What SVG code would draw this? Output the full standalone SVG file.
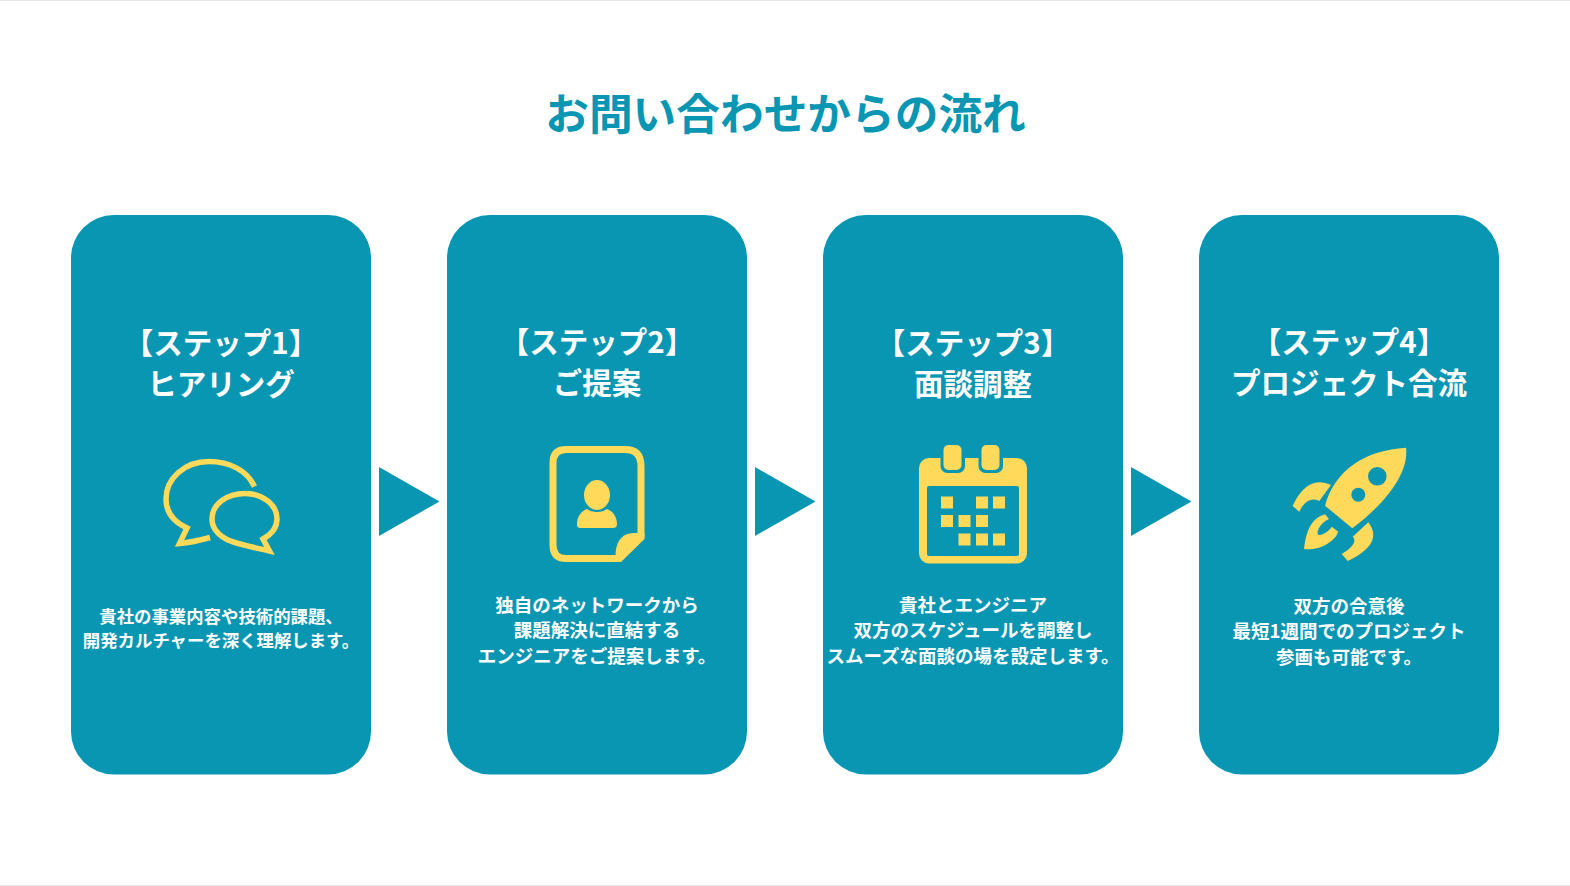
<svg xmlns="http://www.w3.org/2000/svg" width="1570" height="886" viewBox="0 0 1570 886">
<style>
text{font-family:"Noto Sans CJK JP","Noto Sans",sans-serif;font-weight:700;text-anchor:middle}
.title{fill:#0896b3;font-size:43.7px}
.head{fill:#fff;font-size:29.5px}
.body{fill:#fff;font-size:18.5px}
.small{font-size:17.4px}
.card{fill:#0896b3}
.y{fill:#ffd95a}
.arrow{fill:#0896b3}
.line{fill:#e6e6e6}
</style>
<rect width="1570" height="886" fill="#fff"/>
<rect class="line" x="0" y="0" width="1570" height="1"/>
<rect class="line" x="0" y="885" width="1570" height="1"/>
<text id="title" class="title" x="785.500" y="130">お問い合わせからの流れ</text>
<g id="step1">
<rect class="card" x="71" y="215" width="300" height="559.500" rx="43"/>
<text class="head" x="221" y="354">【ステップ1】</text>
<text class="head" x="221" y="395">ヒアリング</text>
<path d="M254.500 486.500C247 470 229 461.500 209 461.500C184 461.500 166 479 166 499C166 512 174 522 187 528L179.500 543.500C190 542.500 201 540 210 537.500" fill="none" stroke="#ffd95a" stroke-width="5.500"/>
<path d="M245 493.500C262 493.500 277 504 277 519C277 527 272 534 263 539L269.500 551C252 547 237 544 228 540C218 535 212 528 212 519C212 504 227 493.500 245 493.500Z" fill="none" stroke="#ffd95a" stroke-width="5.500"/>
<text class="body small" x="221" y="622.500">貴社の事業内容や技術的課題、</text>
<text class="body small" x="221" y="646.500">開発カルチャーを深く理解します。</text>
</g>
<g id="step2">
<rect class="card" x="447" y="215" width="300" height="559.500" rx="43"/>
<text class="head" x="597" y="353">【ステップ2】</text>
<text class="head" x="597" y="394">ご提案</text>
<path d="M566 449.500H625Q641 449.500 641 466V536L619 558.500H566Q553 558.500 553 545V463Q553 449.500 566 449.500Z" fill="none" stroke="#ffd95a" stroke-width="7"/>
<path class="y" d="M616 562C614 548 618 533 634 533H644.500V539L621 562Z"/>
<ellipse class="y" cx="597" cy="495" rx="13" ry="15"/>
<path class="y" d="M587 509C592 513 602 513 607 509C613 511 617 517 617 524C617 527 615 528 613 528H581C578 528 577 527 577 524C577 517 581 511 587 509Z"/>
<text class="body" x="597" y="611.500">独自のネットワークから</text>
<text class="body" x="597" y="637">課題解決に直結する</text>
<text class="body" x="597" y="662.500">エンジニアをご提案します。</text>
</g>
<g id="step3">
<rect class="card" x="823" y="215" width="300" height="559.500" rx="43"/>
<text class="head" x="973" y="354">【ステップ3】</text>
<text class="head" x="973" y="395">面談調整</text>
<rect class="y" x="919" y="458" width="108" height="105.500" rx="10"/>
<rect class="card" x="927" y="486" width="92" height="70" rx="2"/>
<rect class="card" x="940.500" y="441" width="24.500" height="32" rx="7"/>
<rect class="card" x="978.500" y="441" width="24.500" height="32" rx="7"/>
<rect class="y" x="943.500" y="445" width="18" height="25" rx="5"/>
<rect class="y" x="981.500" y="445" width="18" height="25" rx="5"/>
<g class="y"><rect x="941" y="496.500" width="12" height="12"/><rect x="976" y="496.500" width="12" height="12"/><rect x="993" y="496.500" width="12" height="12"/><rect x="941" y="515" width="12" height="12"/><rect x="958.500" y="515" width="12" height="12"/><rect x="976" y="515" width="12" height="12"/><rect x="958.500" y="533.500" width="12" height="12"/><rect x="976" y="533.500" width="12" height="12"/><rect x="993" y="533.500" width="12" height="12"/></g>
<text class="body" x="973" y="611.500">貴社とエンジニア</text>
<text class="body" x="973" y="637">双方のスケジュールを調整し</text>
<text class="body" x="973" y="662.500">スムーズな面談の場を設定します。</text>
</g>
<g id="step4">
<rect class="card" x="1199" y="215" width="300" height="559.500" rx="43"/>
<text class="head" x="1349" y="353">【ステップ4】</text>
<text class="head" x="1349" y="394">プロジェクト合流</text>
<path class="y" fill-rule="evenodd" d="M1325 505.700C1335 470 1365 450 1406 447.700C1409 470 1390 500 1352.300 528.300ZM1386.600 476.300A9.300 9.300 0 1 0 1368 476.300A9.300 9.300 0 1 0 1386.600 476.300ZM1365.300 494.700A7 7 0 1 0 1351.300 494.700A7 7 0 1 0 1365.300 494.700Z"/>
<path class="y" d="M1292.700 506L1299.300 511.700C1304 502 1311 497 1319.300 501L1331 485C1312 476 1300 490 1292.700 506Z"/>
<path class="y" d="M1368.300 522.300L1352.700 536.700C1358 542 1350 549 1341.700 554L1347.700 561C1365 553 1382 540 1368.300 522.300Z"/>
<path class="y" d="M1304 549C1306 530 1312 518 1325 514.300L1329 519C1318 524 1315 536 1320 535C1325 534 1330 530 1331.700 526.700L1338.300 531.700C1334 543 1318 551 1304 549Z"/>
<text class="body" x="1349" y="613">双方の合意後</text>
<text class="body" x="1349" y="638">最短1週間でのプロジェクト</text>
<text class="body" x="1349" y="663.500">参画も可能です。</text>
</g>
<g id="connectors">
<polygon class="arrow" points="379,467 439.500,501.500 379,536"/>
<polygon class="arrow" points="755,467 815.500,501.500 755,536"/>
<polygon class="arrow" points="1131,467 1191.500,501.500 1131,536"/>
</g>
</svg>
